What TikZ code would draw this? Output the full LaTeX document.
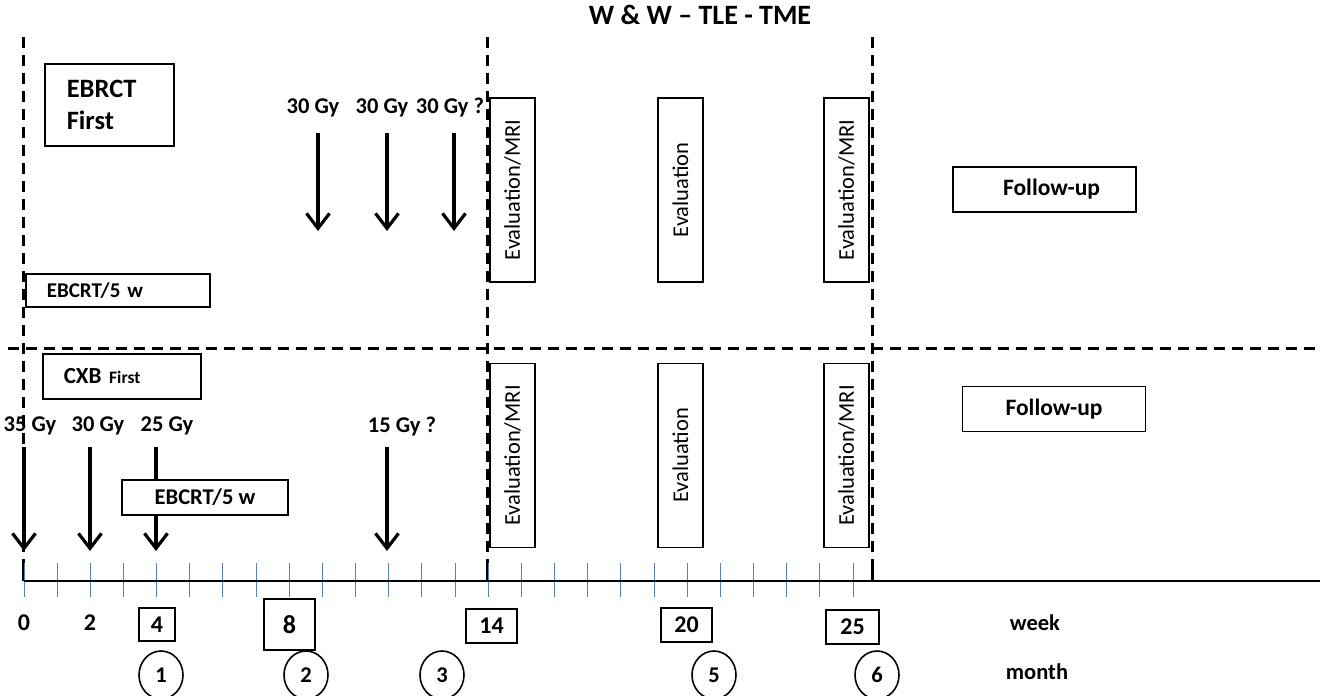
\documentclass[tikz,border=0pt]{standalone}
\usepackage{fontspec}
\setmainfont{Carlito}
\usetikzlibrary{arrows.meta,shapes.geometric}

\definecolor{tickblue}{RGB}{84,130,190}

\tikzset{
  every node/.style={font=\bfseries\fontsize{22.5}{27}\selectfont, inner sep=0pt},
  frame/.style={draw, line width=1.6pt, fill=white},
  evalbox/.style={draw, line width=1.4pt, rotate=90, minimum width=184pt, minimum height=45pt,
    font=\mdseries\fontsize{22.5}{27}\selectfont},
  fubox/.style={frame, minimum width=183pt, minimum height=45pt, font=\bfseries\fontsize{23.5}{28}\selectfont},
  wkbox/.style={frame, line width=2pt, minimum width=51pt, minimum height=34pt},
  mobox/.style={ellipse, draw, line width=1.6pt, minimum width=44pt, minimum height=48pt},
  dose/.style={line width=3.2pt, -{Straight Barb[length=15pt,width=23pt]}},
  phase/.style={line width=3pt, dash pattern=on 11pt off 7pt},
  weektick/.style={draw=tickblue, line width=1pt}
}

\begin{document}
\begin{tikzpicture}[x=1pt,y=-1pt]
  \useasboundingbox (0,0) rectangle (1320,696);

  % title
  \node[font=\bfseries\fontsize{28}{32}\selectfont] (title) at (700,15) {W \& W – TLE - TME};

  % phase borders
  \foreach \x in {23,487,872} {
    \draw[phase] (\x,37) -- (\x,570);
    \draw[line width=3pt] (\x,568) -- (\x,581);
  }
  \draw[phase] (8,348) -- (1320,348);

  % time axis with one tick per week
  \foreach \w in {0,...,25}
    \draw[weektick] ({24+33.16*\w},563) -- ++(0,34);
  \draw[line width=2.6pt] (24,581) -- (1320,581);

  % upper arm: EBRCT first
  \node[frame, anchor=north west, text width=85pt, inner xsep=22pt, minimum height=82pt,
    align=left, font=\bfseries\fontsize{26.5}{32}\selectfont] (ebrct) at (44,63) {EBRCT\\First};
  \node[frame, anchor=north west, text width=142pt, inner xsep=21pt, minimum height=33pt,
    align=left, font=\bfseries\fontsize{21}{25}\selectfont] (rt1) at (25,273) {EBCRT/5 w};

  \node (g1) at (313,108) {30 Gy};
  \node (g2) at (382,108) {30 Gy};
  \node (g3) at (450,108) {30 Gy ?};
  \foreach \n/\x in {a/318,b/387,c/454} {
    \coordinate (\n top) at (\x,133);
    \coordinate (\n tip) at (\x,231);
    \draw[dose] (\n top) -- (\n tip);
  }

  \node[evalbox] (ev1) at (512.5,190) {Evaluation/MRI};
  \node[evalbox] (ev2) at (680.5,190) {Evaluation};
  \node[evalbox] (ev3) at (846.5,190) {Evaluation/MRI};
  \node[fubox] (fu1) at (1044.5,189.5) {\hspace*{14pt}Follow-up};

  % lower arm: CXB first
  \node[frame, anchor=north west, text width=116pt, inner xsep=21pt, minimum height=45pt,
    align=left, font=\bfseries\fontsize{23}{27}\selectfont] (cxb) at (42,353)
    {CXB {\fontsize{17.5}{20}\selectfont First}};

  \node (h1) at (30,426) {35 Gy};
  \node (h2) at (98,426) {30 Gy};
  \node (h3) at (167,426) {25 Gy};
  \node (h4) at (402,426) {15 Gy ?};
  \foreach \n/\x in {p/24,q/90,r/156,s/387} {
    \coordinate (\n top) at (\x,447);
    \coordinate (\n tip) at (\x,551);
    \draw[dose] (\n top) -- (\n tip);
  }
  \node[frame, minimum width=166pt, minimum height=35pt] (rt2) at (205,497.5) {EBCRT/5 w};

  \node[evalbox] (ev4) at (512.5,455.5) {Evaluation/MRI};
  \node[evalbox] (ev5) at (680.5,455.5) {Evaluation};
  \node[evalbox] (ev6) at (846.5,455.5) {Evaluation/MRI};
  \node[fubox] (fu2) at (1054,409) {Follow-up};

  % week scale
  \node[font=\bfseries\fontsize{24}{28}\selectfont] (w0) at (24,623) {0};
  \node[font=\bfseries\fontsize{24}{28}\selectfont] (w2) at (90,623) {2};
  \node[wkbox, minimum width=36pt, minimum height=33pt, font=\bfseries\fontsize{24}{28}\selectfont] (w4) at (157,624.5) {4};
  \node[wkbox, minimum width=51pt, minimum height=51pt,
    font=\fontseries{sb}\selectfont\fontsize{26}{30}\selectfont] (w8) at (289.5,624.5) {8};
  \node[wkbox, font=\bfseries\fontsize{24}{28}\selectfont] (w14) at (491.5,626) {14};
  \node[wkbox, font=\bfseries\fontsize{24}{28}\selectfont] (w20) at (686.5,625) {20};
  \node[wkbox, minimum width=53pt, font=\bfseries\fontsize{24}{28}\selectfont] (w25) at (852.5,626.5) {25};
  \node (week) at (1035,623) {week};

  % month scale
  \node[mobox] (m1) at (161,675) {1};
  \node[mobox] (m2) at (306,675) {2};
  \node[mobox] (m3) at (442,675) {3};
  \node[mobox] (m5) at (714,675) {5};
  \node[mobox] (m6) at (877,675) {6};
  \node (month) at (1037,672) {month};
\end{tikzpicture}
\end{document}
